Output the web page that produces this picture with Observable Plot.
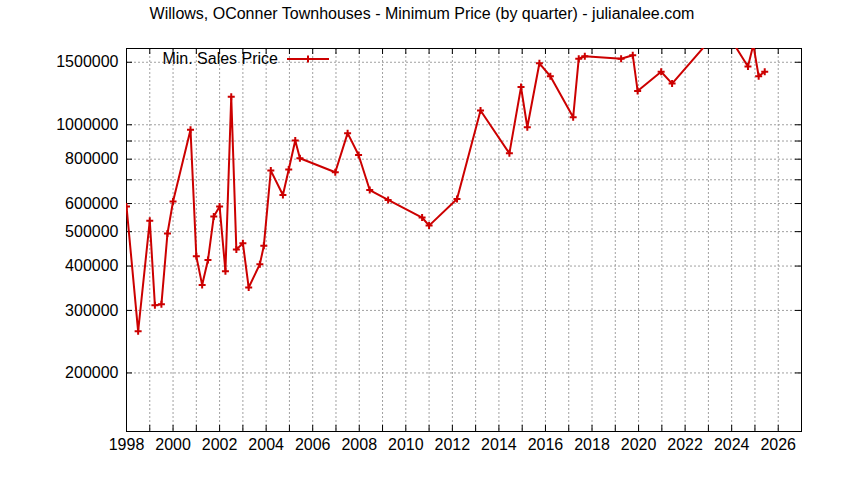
<!DOCTYPE html>
<html><head><meta charset="utf-8">
<script src="https://cdn.jsdelivr.net/npm/d3@7"></script>
<script src="https://cdn.jsdelivr.net/npm/@observablehq/plot@0.6"></script>
<style>body{margin:0;background:#fff} #chart{width:844px;height:480px}</style>
</head><body><div id="chart"></div>
<script>
const titleText = "Willows, OConner Townhouses - Minimum Price (by quarter) - julianalee.com";
const seriesName = "Min. Sales Price";
const years = [1998.0,1998.5,1999.0,1999.22,1999.5,1999.76,2000.0,2000.75,2001.0,2001.25,2001.5,2001.75,2002.0,2002.25,2002.5,2002.72,2003.0,2003.25,2003.73,2003.9,2004.2,2004.72,2004.97,2005.25,2005.45,2006.97,2007.5,2007.97,2008.45,2009.24,2010.7,2011.0,2012.2,2013.21,2014.45,2014.95,2015.22,2015.74,2016.21,2017.19,2017.43,2017.69,2019.25,2019.75,2019.96,2020.97,2021.44,2023.6,2024.7,2024.93,2025.16,2025.42];
const prices = [589000,262000,537000,310000,312000,494000,608000,968000,426000,354000,416000,552000,589000,387000,1200000,445000,464000,348000,405000,456000,743000,634000,748000,903000,805000,735000,947000,822000,655000,614000,548000,520000,618000,1097000,831000,1277000,984000,1490000,1370000,1050000,1535000,1560000,1535000,1570000,1245000,1410000,1306000,1900000,1460000,1680000,1370000,1410000];
const yTicks = [200000,300000,400000,500000,600000,700000,800000,900000,1000000,1500000];
const yLabels = [200000,300000,400000,500000,600000,800000,1000000,1500000];
const xTicks = [1998,1999,2000,2001,2002,2003,2004,2005,2006,2007,2008,2009,2010,2011,2012,2013,2014,2015,2016,2017,2018,2019,2020,2021,2022,2023,2024,2025,2026,2027];
const xLabels = [1998,2000,2002,2004,2006,2008,2010,2012,2014,2016,2018,2020,2022,2024,2026];

const data = years.map((x, i) => ({x, y: prices[i]}));
const W = 844, H = 480, mL = 126, mR = 43, mT = 48, mB = 49;
const frameW = W - mL - mR, frameH = H - mT - mB;
const tickLen = 6;
const red = "#cc0000";
const fs = 16;
const plus = {draw(ctx, size) {const r = Math.sqrt(size / Math.PI); ctx.moveTo(-r, 0); ctx.lineTo(r, 0); ctx.moveTo(0, -r); ctx.lineTo(0, r);}};
const grid = {stroke: "#a0a0a0", strokeDasharray: "2,2", strokeWidth: 1, strokeOpacity: 1};

const plot = Plot.plot({
  width: W, height: H, marginLeft: mL, marginRight: mR, marginTop: mT, marginBottom: mB,
  style: {fontFamily: "'Liberation Sans', Arial, sans-serif", fontSize: fs + "px", color: "#000", background: "#fff"},
  x: {domain: [1998, 2027], label: null},
  y: {type: "log", domain: [136800, 1640000], label: null},
  marks: [
    Plot.ruleX(xTicks.slice(1, -1), grid),
    Plot.ruleY(yTicks, grid),
    Plot.tickX(xTicks, {x: d => d, stroke: "#000", insetTop: frameH - tickLen}),
    Plot.tickX(xTicks, {x: d => d, stroke: "#000", insetBottom: frameH - tickLen}),
    Plot.tickY(yTicks, {y: d => d, stroke: "#000", insetRight: frameW - tickLen}),
    Plot.tickY(yTicks, {y: d => d, stroke: "#000", insetLeft: frameW - tickLen}),
    Plot.frame({stroke: "#000", strokeWidth: 1}),
    Plot.axisX(xLabels, {tickSize: 0, tickPadding: 7, tickFormat: d => String(d), fontSize: fs}),
    Plot.axisY(yLabels, {tickSize: 0, tickPadding: 8, tickFormat: d => String(d), fontSize: fs}),
    Plot.line(data, {x: "x", y: "y", stroke: red, strokeWidth: 2, clip: true}),
    Plot.dot(data, {x: "x", y: "y", symbol: plus, r: 3.5, stroke: red, strokeWidth: 2, fill: "none", clip: true})
  ]
});

const svg = d3.select(plot);
svg.append("text").attr("x", W / 2).attr("y", 19).attr("text-anchor", "middle")
  .attr("font-size", fs).attr("fill", "#000").text(titleText);
const lg = svg.append("g");
lg.append("text").attr("x", 278).attr("y", 64).attr("text-anchor", "end")
  .attr("font-size", fs).attr("fill", "#000").text(seriesName);
lg.append("line").attr("x1", 287).attr("x2", 329).attr("y1", 59).attr("y2", 59)
  .attr("stroke", red).attr("stroke-width", 2);
lg.append("path").attr("d", "M304.5,59h7M308,55.5v7").attr("stroke", red).attr("stroke-width", 2);
document.getElementById("chart").appendChild(plot);
</script>
</body></html>
